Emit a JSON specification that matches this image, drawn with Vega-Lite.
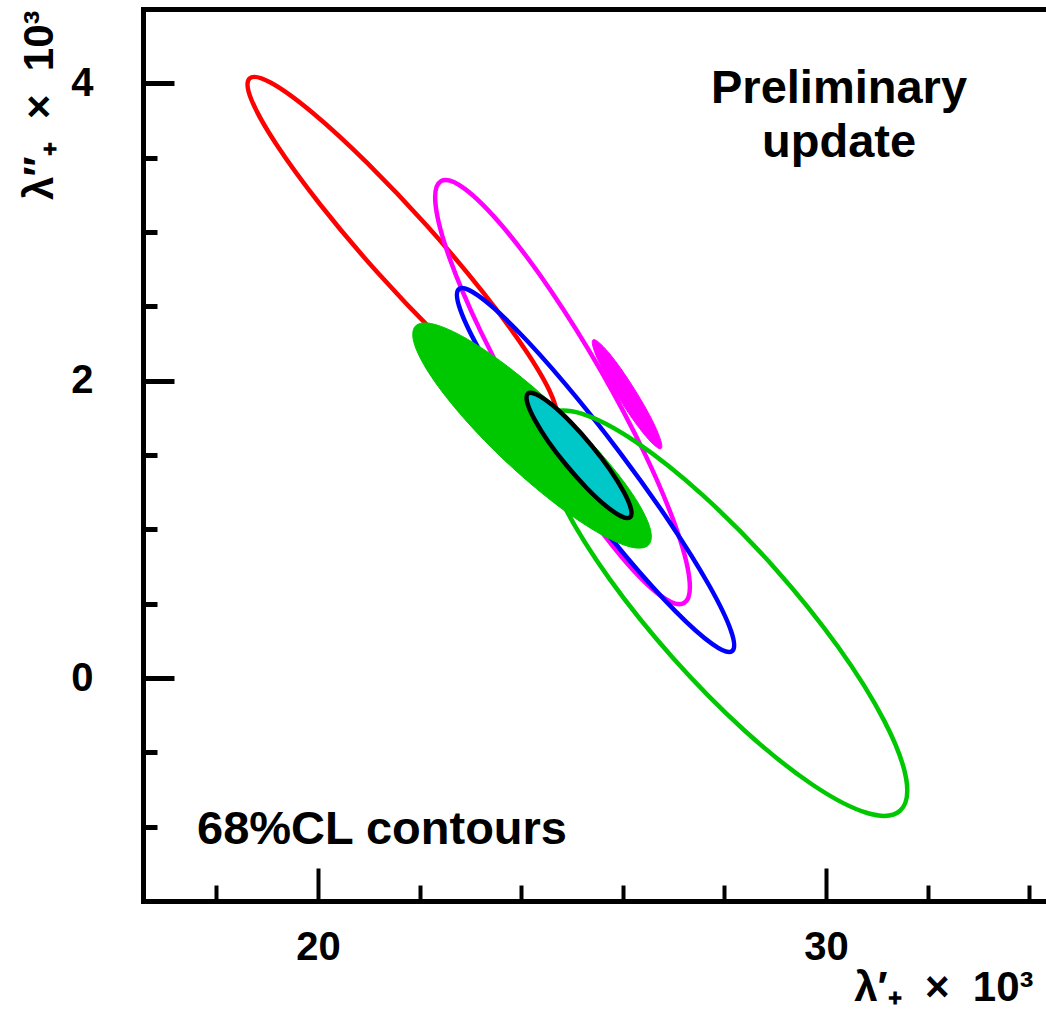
{
  "$schema": "https://vega.github.io/schema/vega-lite/v6.json",
  "width": 903,
  "height": 892,
  "autosize": {"type": "none"},
  "padding": {"left": 143, "top": 9, "right": 0, "bottom": 114},
  "background": "white",
  "config": {
    "view": {"stroke": null},
    "axis": {"grid": false, "labelFont": "Liberation Sans", "labelFontWeight": "bold", "labelFontSize": 40, "labelColor": "black", "titleFont": "Liberation Sans", "titleFontWeight": "bold", "titleFontSize": 40, "titleColor": "black", "domainColor": "black", "tickColor": "black", "labelFlush": false, "labelOverlap": false}
  },
  "datasets": {
    "pts": [
      {"e":"red","i":0,"x":24.654,"y":1.739},{"e":"red","i":1,"x":24.618,"y":1.884},{"e":"red","i":2,"x":24.129,"y":2.182},{"e":"red","i":3,"x":23.265,"y":2.587},
      {"e":"red","i":4,"x":22.154,"y":3.038},{"e":"red","i":5,"x":20.967,"y":3.465},{"e":"red","i":6,"x":19.887,"y":3.804},{"e":"red","i":7,"x":19.074,"y":4.004},
      {"e":"red","i":8,"x":18.654,"y":4.033},{"e":"red","i":9,"x":18.691,"y":3.888},{"e":"red","i":10,"x":19.179,"y":3.590},{"e":"red","i":11,"x":20.043,"y":3.185},
      {"e":"red","i":12,"x":21.154,"y":2.734},{"e":"red","i":13,"x":22.341,"y":2.307},{"e":"red","i":14,"x":23.421,"y":1.968},{"e":"red","i":15,"x":24.235,"y":1.768},
      {"e":"magenta","i":0,"x":27.205,"y":0.504},{"e":"magenta","i":1,"x":27.310,"y":0.668},{"e":"magenta","i":2,"x":27.034,"y":1.024},{"e":"magenta","i":3,"x":26.422,"y":1.516},
      {"e":"magenta","i":4,"x":25.563,"y":2.070},{"e":"magenta","i":5,"x":24.590,"y":2.602},{"e":"magenta","i":6,"x":23.652,"y":3.030},{"e":"magenta","i":7,"x":22.890,"y":3.290},
      {"e":"magenta","i":8,"x":22.421,"y":3.342},{"e":"magenta","i":9,"x":22.316,"y":3.178},{"e":"magenta","i":10,"x":22.592,"y":2.822},{"e":"magenta","i":11,"x":23.204,"y":2.330},
      {"e":"magenta","i":12,"x":24.063,"y":1.776},{"e":"magenta","i":13,"x":25.036,"y":1.244},{"e":"magenta","i":14,"x":25.974,"y":0.816},{"e":"magenta","i":15,"x":26.736,"y":0.556},
      {"e":"blue","i":0,"x":28.150,"y":0.181},{"e":"blue","i":1,"x":28.127,"y":0.320},{"e":"blue","i":2,"x":27.697,"y":0.624},{"e":"blue","i":3,"x":26.928,"y":1.045},
      {"e":"blue","i":4,"x":25.935,"y":1.520},{"e":"blue","i":5,"x":24.870,"y":1.977},{"e":"blue","i":6,"x":23.897,"y":2.346},{"e":"blue","i":7,"x":23.161,"y":2.570},
      {"e":"blue","i":8,"x":22.776,"y":2.617},{"e":"blue","i":9,"x":22.799,"y":2.478},{"e":"blue","i":10,"x":23.229,"y":2.174},{"e":"blue","i":11,"x":23.998,"y":1.753},
      {"e":"blue","i":12,"x":24.991,"y":1.278},{"e":"blue","i":13,"x":26.056,"y":0.821},{"e":"blue","i":14,"x":27.029,"y":0.452},{"e":"blue","i":15,"x":27.765,"y":0.228},
      {"e":"green","i":0,"x":31.457,"y":-0.893},{"e":"green","i":1,"x":31.577,"y":-0.676},{"e":"green","i":2,"x":31.149,"y":-0.290},{"e":"green","i":3,"x":30.243,"y":0.207},
      {"e":"green","i":4,"x":28.992,"y":0.739},{"e":"green","i":5,"x":27.589,"y":1.225},{"e":"green","i":6,"x":26.249,"y":1.590},{"e":"green","i":7,"x":25.173,"y":1.780},
      {"e":"green","i":8,"x":24.527,"y":1.765},{"e":"green","i":9,"x":24.407,"y":1.548},{"e":"green","i":10,"x":24.835,"y":1.162},{"e":"green","i":11,"x":25.741,"y":0.665},
      {"e":"green","i":12,"x":26.992,"y":0.133},{"e":"green","i":13,"x":28.395,"y":-0.353},{"e":"green","i":14,"x":29.735,"y":-0.718},{"e":"green","i":15,"x":30.811,"y":-0.908},
      {"e":"gfill","i":0,"x":26.508,"y":0.895},{"e":"gfill","i":1,"x":26.525,"y":1.020},{"e":"gfill","i":2,"x":26.188,"y":1.239},{"e":"gfill","i":3,"x":25.552,"y":1.516},
      {"e":"gfill","i":4,"x":24.711,"y":1.812},{"e":"gfill","i":5,"x":23.794,"y":2.080},{"e":"gfill","i":6,"x":22.942,"y":2.279},{"e":"gfill","i":7,"x":22.283,"y":2.380},
      {"e":"gfill","i":8,"x":21.918,"y":2.367},{"e":"gfill","i":9,"x":21.901,"y":2.242},{"e":"gfill","i":10,"x":22.238,"y":2.023},{"e":"gfill","i":11,"x":22.874,"y":1.746},
      {"e":"gfill","i":12,"x":23.715,"y":1.450},{"e":"gfill","i":13,"x":24.632,"y":1.182},{"e":"gfill","i":14,"x":25.484,"y":0.983},{"e":"gfill","i":15,"x":26.143,"y":0.882},
      {"e":"blob","i":0,"x":26.752,"y":1.543},{"e":"blob","i":1,"x":26.758,"y":1.583},{"e":"blob","i":2,"x":26.662,"y":1.673},{"e":"blob","i":3,"x":26.478,"y":1.799},
      {"e":"blob","i":4,"x":26.233,"y":1.941},{"e":"blob","i":5,"x":25.966,"y":2.079},{"e":"blob","i":6,"x":25.716,"y":2.191},{"e":"blob","i":7,"x":25.522,"y":2.259},
      {"e":"blob","i":8,"x":25.414,"y":2.275},{"e":"blob","i":9,"x":25.408,"y":2.235},{"e":"blob","i":10,"x":25.504,"y":2.145},{"e":"blob","i":11,"x":25.688,"y":2.019},
      {"e":"blob","i":12,"x":25.933,"y":1.877},{"e":"blob","i":13,"x":26.200,"y":1.739},{"e":"blob","i":14,"x":26.450,"y":1.627},{"e":"blob","i":15,"x":26.644,"y":1.559},
      {"e":"cyan","i":0,"x":26.142,"y":1.081},{"e":"cyan","i":1,"x":26.159,"y":1.139},{"e":"cyan","i":2,"x":26.020,"y":1.251},{"e":"cyan","i":3,"x":25.748,"y":1.401},
      {"e":"cyan","i":4,"x":25.381,"y":1.565},{"e":"cyan","i":5,"x":24.978,"y":1.719},{"e":"cyan","i":6,"x":24.600,"y":1.839},{"e":"cyan","i":7,"x":24.303,"y":1.907},
      {"e":"cyan","i":8,"x":24.134,"y":1.913},{"e":"cyan","i":9,"x":24.117,"y":1.855},{"e":"cyan","i":10,"x":24.256,"y":1.743},{"e":"cyan","i":11,"x":24.528,"y":1.593},
      {"e":"cyan","i":12,"x":24.895,"y":1.429},{"e":"cyan","i":13,"x":25.298,"y":1.275},{"e":"cyan","i":14,"x":25.676,"y":1.155},{"e":"cyan","i":15,"x":25.973,"y":1.087}
    ],
    "notes": [
      {"t": "Preliminary", "x": 30.256, "y": 3.866},
      {"t": "update", "x": 30.256, "y": 3.505}
    ],
    "cl": [
      {"t": "68%CL contours", "x": 17.618, "y": -1.114}
    ]
  },
  "resolve": {"axis": {"x": "independent", "y": "independent"}},
  "layer": [
    {
      "data": {"name": "pts"},
      "transform": [{"filter": {"field": "e", "oneOf": ["red", "magenta", "blue", "green"]}}],
      "mark": {"type": "line", "interpolate": "cardinal-closed", "strokeWidth": 4.5},
      "encoding": {
        "x": {"field": "x", "type": "quantitative", "scale": {"domain": [16.555, 34.33], "nice": false, "zero": false},
              "axis": {"orient": "bottom", "values": [20, 30], "labels": false, "ticks": true, "tickSize": -33, "tickWidth": 4, "domain": true, "domainWidth": 5, "domainCap": "square", "title": null}},
        "y": {"field": "y", "type": "quantitative", "scale": {"domain": [-1.5, 4.5], "nice": false, "zero": false},
              "axis": {"orient": "left", "values": [0, 2, 4], "labels": false, "ticks": true, "tickSize": -31, "tickWidth": 5, "domain": true, "domainWidth": 5, "domainCap": "square", "title": null}},
        "color": {"field": "e", "type": "nominal", "scale": {"domain": ["red", "magenta", "blue", "green"], "range": ["#ff0000", "#ff00ff", "#0000ff", "#00c800"]}, "legend": null},
        "order": {"field": "i", "type": "quantitative"}
      }
    },
    {
      "data": {"name": "pts"},
      "transform": [{"filter": "datum.e == 'gfill'"}],
      "mark": {"type": "line", "interpolate": "cardinal-closed", "fill": "#00c800", "stroke": "#00c800", "strokeWidth": 1},
      "encoding": {
        "x": {"field": "x", "type": "quantitative", "scale": {"domain": [16.555, 34.33], "nice": false, "zero": false},
              "axis": {"orient": "bottom", "values": [18, 22, 24, 26, 28, 32, 34], "labels": false, "ticks": true, "tickSize": -16, "tickWidth": 4, "domain": false, "title": null}},
        "y": {"field": "y", "type": "quantitative", "scale": {"domain": [-1.5, 4.5], "nice": false, "zero": false},
              "axis": {"orient": "left", "values": [-1, -0.5, 0.5, 1, 1.5, 2.5, 3, 3.5], "labels": false, "ticks": true, "tickSize": -14, "tickWidth": 5, "domain": false, "title": null}},
        "order": {"field": "i", "type": "quantitative"}
      }
    },
    {
      "data": {"name": "pts"},
      "transform": [{"filter": "datum.e == 'blob'"}],
      "mark": {"type": "line", "interpolate": "cardinal-closed", "fill": "#ff00ff", "stroke": "#ff00ff", "strokeWidth": 1},
      "encoding": {
        "x": {"field": "x", "type": "quantitative", "scale": {"domain": [16.555, 34.33], "nice": false, "zero": false},
              "axis": {"orient": "bottom", "values": [20, 30], "labels": true, "ticks": false, "domain": false, "labelPadding": 58, "labelBaseline": "alphabetic", "labelAlign": "center",
                       "title": "λ′₊\u00a0\u00a0×\u00a0\u00a010³", "titleAnchor": "end", "titleAlign": "right", "titleBaseline": "alphabetic", "titleX": 890, "titleY": 99, "titleFontSize": 42}},
        "y": {"field": "y", "type": "quantitative", "scale": {"domain": [-1.5, 4.5], "nice": false, "zero": false},
              "axis": {"orient": "left", "values": [0, 2, 4], "labels": true, "ticks": false, "domain": false, "labelPadding": 50, "labelAlign": "right", "labelBaseline": "middle",
                       "title": "λ″₊\u00a0\u00a0×\u00a0\u00a010³", "titleAngle": 270, "titleAlign": "right", "titleBaseline": "alphabetic", "titleX": -91, "titleY": 1, "titleFontSize": 42}},
        "order": {"field": "i", "type": "quantitative"}
      }
    },
    {
      "data": {"name": "pts"},
      "transform": [{"filter": "datum.e == 'cyan'"}],
      "mark": {"type": "line", "interpolate": "cardinal-closed", "fill": "#00c8c8", "stroke": "#000000", "strokeWidth": 4.5},
      "encoding": {
        "x": {"field": "x", "type": "quantitative", "scale": {"domain": [16.555, 34.33], "nice": false, "zero": false},
              "axis": {"orient": "top", "labels": false, "ticks": false, "domain": true, "domainWidth": 5, "domainCap": "square", "title": null}},
        "y": {"field": "y", "type": "quantitative", "scale": {"domain": [-1.5, 4.5], "nice": false, "zero": false}, "axis": null},
        "order": {"field": "i", "type": "quantitative"}
      }
    },
    {
      "data": {"name": "notes"},
      "mark": {"type": "text", "font": "Liberation Sans", "fontWeight": "bold", "fontSize": 47, "align": "center", "baseline": "alphabetic", "color": "black"},
      "encoding": {
        "x": {"field": "x", "type": "quantitative", "scale": {"domain": [16.555, 34.33], "nice": false, "zero": false}, "axis": null},
        "y": {"field": "y", "type": "quantitative", "scale": {"domain": [-1.5, 4.5], "nice": false, "zero": false}, "axis": null},
        "text": {"field": "t"}
      }
    },
    {
      "data": {"name": "cl"},
      "mark": {"type": "text", "font": "Liberation Sans", "fontWeight": "bold", "fontSize": 47, "align": "left", "baseline": "alphabetic", "color": "black"},
      "encoding": {
        "x": {"field": "x", "type": "quantitative", "scale": {"domain": [16.555, 34.33], "nice": false, "zero": false}, "axis": null},
        "y": {"field": "y", "type": "quantitative", "scale": {"domain": [-1.5, 4.5], "nice": false, "zero": false}, "axis": null},
        "text": {"field": "t"}
      }
    }
  ]
}
